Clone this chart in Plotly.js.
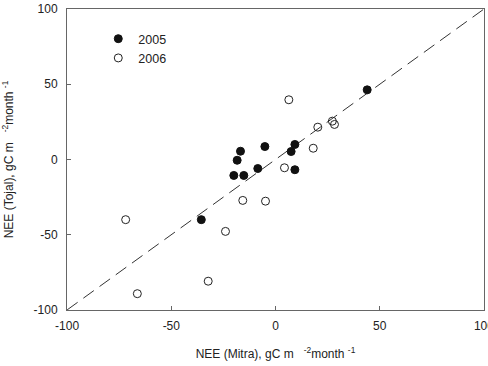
<!DOCTYPE html>
<html>
<head>
<meta charset="utf-8">
<script src="https://cdn.plot.ly/plotly-3.0.1.min.js"></script>
<style>
  html, body { margin: 0; padding: 0; background: #fff; }
  #chart { width: 488px; height: 366px; }
</style>
</head>
<body>
<div id="chart"></div>
<script>
// Monthly NEE, Mitra (x) vs Tojal (y), gC m-2 month-1
const mitra2005 = [44, 9.3, 7.5, 9.3, -16.8, -18.4, -5.1, -8.5, -20, -15.2, -35.6];
const tojal2005 = [46.3, 10, 5.3, -6.8, 5.5, -0.5, 8.6, -6, -10.6, -10.6, -40];

const mitra2006 = [6.4, 27.3, 28.3, 20.3, 18.1, 4.3, -15.7, -4.8, -71.9, -24, -32.3, -66.3];
const tojal2006 = [39.7, 25.5, 23.3, 21.5, 7.5, -5.5, -27.2, -27.7, -40, -47.8, -80.9, -89.2];

// 1:1 reference line
const oneToOne = [-100, 100];

const tickVals = [-100, -50, 0, 50, 100];
const tickText = ['-100', '-50', '0', '50', '100'];

const font = { family: 'Liberation Sans, Arial, sans-serif', size: 12, color: '#222' };

const traces = [
  {
    x: oneToOne, y: oneToOne, mode: 'lines', showlegend: false, hoverinfo: 'skip',
    line: { color: '#333', width: 1, dash: '13px,7px' }
  },
  {
    x: mitra2005, y: tojal2005, mode: 'markers', name: '2005',
    marker: { symbol: 'circle', size: 8, color: '#111', line: { color: '#111', width: 1 } }
  },
  {
    x: mitra2006, y: tojal2006, mode: 'markers', name: '2006',
    marker: { symbol: 'circle-open', size: 8, color: '#222', line: { color: '#222', width: 1 } }
  }
];

const axisBase = {
  range: [-100.05, 100.05], tickvals: tickVals, ticktext: tickText,
  showgrid: false, zeroline: false, showline: true, mirror: true,
  linecolor: '#666', linewidth: 1, ticks: 'inside', ticklen: 4, tickcolor: '#666',
  tickfont: font, ticklabeloverflow: 'allow', automargin: false
};

const layout = {
  width: 488, height: 366,
  margin: { l: 67, r: 4, t: 9, b: 56 },
  paper_bgcolor: '#fff', plot_bgcolor: '#fff',
  font: font,
  xaxis: Object.assign({}, axisBase, {
    ticklabelstandoff: 5,
    title: { text: 'NEE (Mitra), gC m&nbsp;&nbsp;&nbsp;<sup>-2</sup>month <sup>-1</sup>', font: font, standoff: 17 }
  }),
  yaxis: Object.assign({}, axisBase, {
    ticklabelstandoff: 6,
    title: { text: 'NEE (Tojal), gC m&nbsp;&nbsp;&nbsp;<sup>-2</sup>month <sup>-1</sup>', font: font, standoff: 18 }
  }),
  legend: {
    x: 0.075, y: 0.95, xanchor: 'left', yanchor: 'top',
    bgcolor: 'rgba(0,0,0,0)', borderwidth: 0,
    font: Object.assign({}, font, { size: 12.5 }), tracegroupgap: 0
  },
  showlegend: true
};

Plotly.newPlot('chart', traces, layout, { staticPlot: true, displayModeBar: false });
</script>
</body>
</html>
